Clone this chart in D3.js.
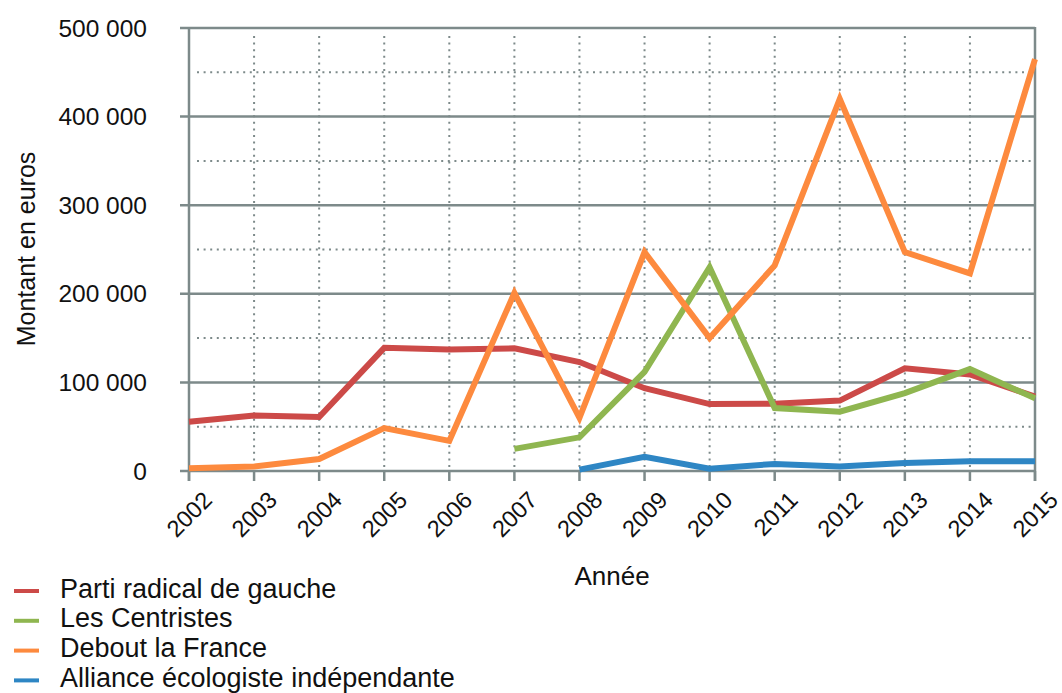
<!DOCTYPE html>
<html><head><meta charset="utf-8">
<script src="https://cdn.jsdelivr.net/npm/d3@7"></script>
<style>body{margin:0;background:#fff}svg{display:block;font-family:"Liberation Sans",Arial,sans-serif}</style>
</head><body><svg id="c" width="1062" height="693"></svg>
<script>
const years = [2002,2003,2004,2005,2006,2007,2008,2009,2010,2011,2012,2013,2014,2015];
const prg = [55500,62500,61000,139000,137000,138500,123000,93500,75500,76000,79500,116000,109000,84000];
const centristes = [null,null,null,null,null,25000,38000,112000,230000,71000,67000,88000,115000,82000];
const dlf = [3000,5000,13500,48500,34000,201000,60000,247000,150000,232000,420000,247000,223000,465000];
const aei = [null,null,null,null,null,null,1500,16000,2500,8000,5000,9000,11000,11000];
const seriesNames = ["Parti radical de gauche","Les Centristes","Debout la France","Alliance écologiste indépendante"];
const seriesValues = [prg, centristes, dlf, aei];
const colors = ["#cc4a48","#8fb650","#fd8a3e","#2e86c4"];
const yTicks = [0,100000,200000,300000,400000,500000];
const yMinor = [50000,150000,250000,350000,450000];

const svg = d3.select("#c");
const L=189, R=1035, T=28, B=471;
const x = d3.scaleLinear().domain([2002,2015]).range([L,R]);
const y = d3.scaleLinear().domain([0,500000]).range([B,T]);
const grid = "#7d8a8a";
const fmt = v => v===0 ? "0" : d3.format(",")(v).replace(/,/g," ");

// minor dotted horizontal
svg.append("g").selectAll("line").data(yMinor).join("line")
  .attr("x1",L+8).attr("x2",R-4).attr("y1",d=>y(d)).attr("y2",d=>y(d))
  .attr("stroke",grid).attr("stroke-width",2).attr("stroke-dasharray","2,4.6");
// dotted vertical
svg.append("g").selectAll("line").data(years.slice(1,-1)).join("line")
  .attr("x1",d=>x(d)).attr("x2",d=>x(d)).attr("y1",T+8).attr("y2",B)
  .attr("stroke",grid).attr("stroke-width",2).attr("stroke-dasharray","2,4.6");
// solid horizontal
svg.append("g").selectAll("line").data(yTicks).join("line")
  .attr("x1",L-9).attr("x2",R).attr("y1",d=>y(d)).attr("y2",d=>y(d))
  .attr("stroke",grid).attr("stroke-width",2.5);
// axes frame
svg.append("line").attr("x1",L).attr("x2",L).attr("y1",T).attr("y2",B+10).attr("stroke",grid).attr("stroke-width",2.5);
svg.append("line").attr("x1",R).attr("x2",R).attr("y1",T-1).attr("y2",B+10).attr("stroke",grid).attr("stroke-width",2.5);
// x ticks
svg.append("g").selectAll("line").data(years).join("line")
  .attr("x1",d=>x(d)).attr("x2",d=>x(d)).attr("y1",B).attr("y2",B+10)
  .attr("stroke",grid).attr("stroke-width",2.5);

// y labels
svg.append("g").selectAll("text").data(yTicks).join("text")
  .attr("x",147).attr("y",d=>y(d)+8.5).attr("text-anchor","end")
  .attr("font-size",24.5).attr("fill","#111").text(fmt);
// x labels
svg.append("g").selectAll("text").data(years).join("text")
  .attr("transform",d=>`translate(${x(d)+12},${B+18}) rotate(-45)`)
  .attr("text-anchor","end").attr("dy","0.75em")
  .attr("font-size",23.5).attr("fill","#111").text(d=>d);

// titles
svg.append("text").attr("transform","translate(35,249) rotate(-90)").attr("text-anchor","middle")
  .attr("font-size",25).attr("fill","#111").text("Montant en euros");
svg.append("text").attr("x",612).attr("y",585).attr("text-anchor","middle")
  .attr("font-size",26).attr("fill","#111").text("Année");

// lines
const line = d3.line().defined(d=>d[1]!==null).x(d=>x(d[0])).y(d=>y(d[1]));
seriesValues.forEach((vals,i)=>{
  svg.append("path").datum(years.map((yr,j)=>[yr,vals[j]]))
    .attr("d",line).attr("fill","none").attr("stroke",colors[i])
    .attr("stroke-width",6).attr("stroke-linejoin","miter").attr("stroke-linecap","butt");
});

// legend
const lg = svg.append("g").selectAll("g").data(seriesNames).join("g")
  .attr("transform",(d,i)=>`translate(0,${591+i*29.8})`);
lg.append("line").attr("x1",14).attr("x2",39).attr("y1",0).attr("y2",0)
  .attr("stroke",(d,i)=>colors[i]).attr("stroke-width",4);
lg.append("text").attr("x",60).attr("y",6.5).attr("font-size",27).attr("fill","#111").text(d=>d);
</script></body></html>
